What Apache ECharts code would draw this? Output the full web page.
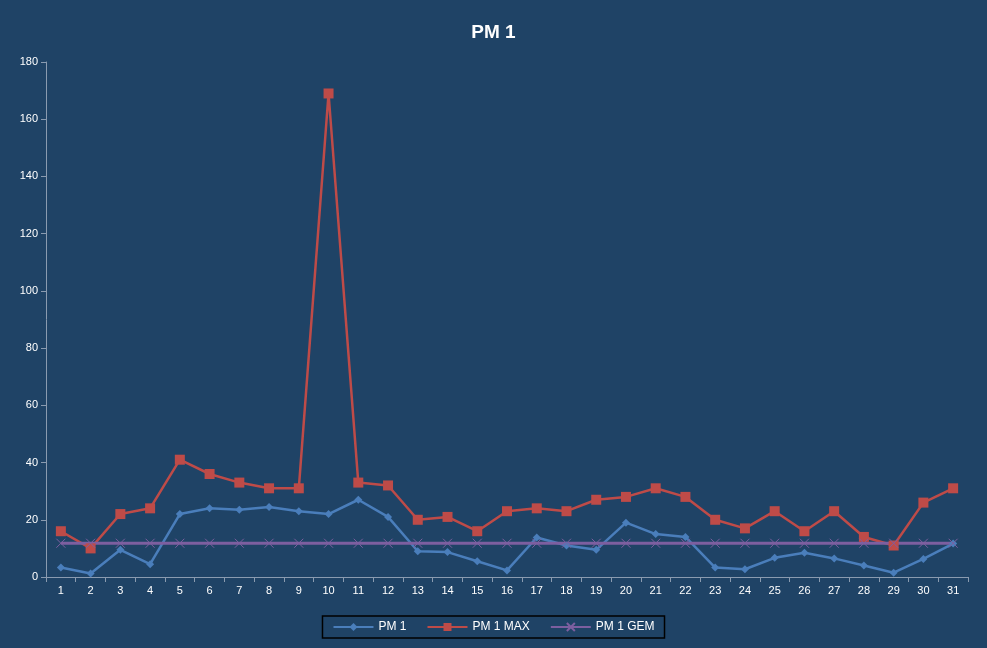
<!DOCTYPE html><html><head><meta charset="utf-8">
<script src="https://cdn.jsdelivr.net/npm/echarts@6/dist/echarts.min.js"></script>
<style>html,body{margin:0;padding:0;background:#fff}#c{width:987px;height:648px}</style></head><body><div id="c"></div>
<script>
const days = Array.from({length:31},(_, i)=>String(i+1));
const pm1 = [3.3,1.2,9.5,4.5,22,24,23.5,24.5,23,22,27,21,9,8.7,5.5,2.3,13.8,11,9.5,19,15,14,3.3,2.7,6.7,8.5,6.5,4,1.5,6.3,11.7];
const pm1Max = [16,10,22,24,41,36,33,31,31,169,33,32,20,21,16,23,24,23,27,28,31,28,20,17,23,16,23,14,11,26,31];
const pm1Gem = days.map(()=>11.8);
const chart = echarts.init(document.getElementById('c'));
const txt = '#ffffff';
chart.setOption({
  backgroundColor:'#1f4366',
  title:{text:'PM 1',left:'center',top:18,textStyle:{color:txt,fontSize:19,fontWeight:'bold',fontFamily:'Liberation Sans'}},
  grid:{left:46,right:19,top:62,bottom:71},
  legend:{bottom:10,left:'center',itemWidth:40,itemHeight:10,itemGap:20,
    borderColor:'#000',borderWidth:1.5,padding:[5,10],
    textStyle:{color:txt,fontSize:12,fontFamily:'Liberation Sans'},
    data:['PM 1','PM 1 MAX','PM 1 GEM']},
  xAxis:{type:'category',data:days,boundaryGap:true,
    axisLine:{lineStyle:{color:'#8a9bb0'}},axisTick:{show:true,lineStyle:{color:'#8a9bb0'}},
    axisLabel:{color:txt,fontSize:11,fontFamily:'Liberation Sans',interval:0}},
  yAxis:{type:'value',min:0,max:180,interval:20,
    axisLine:{show:true,lineStyle:{color:'#8a9bb0'}},axisTick:{show:true,lineStyle:{color:'#8a9bb0'}},
    splitLine:{show:false},
    axisLabel:{color:txt,fontSize:11,fontFamily:'Liberation Sans'}},
  series:[
    {name:'PM 1',type:'line',data:pm1,symbol:'diamond',symbolSize:8,color:'#4a7ebb',lineStyle:{width:2.5}},
    {name:'PM 1 MAX',type:'line',data:pm1Max,symbol:'rect',symbolSize:10,color:'#be4b48',lineStyle:{width:2.5}},
    {name:'PM 1 GEM',type:'line',data:pm1Gem,symbol:'path://M0,0L10,10M10,0L0,10',symbolSize:9,color:'#7d5fa0',
      itemStyle:{borderColor:'#7d5fa0',borderWidth:1},lineStyle:{width:3}}
  ]
});
</script></body></html>
